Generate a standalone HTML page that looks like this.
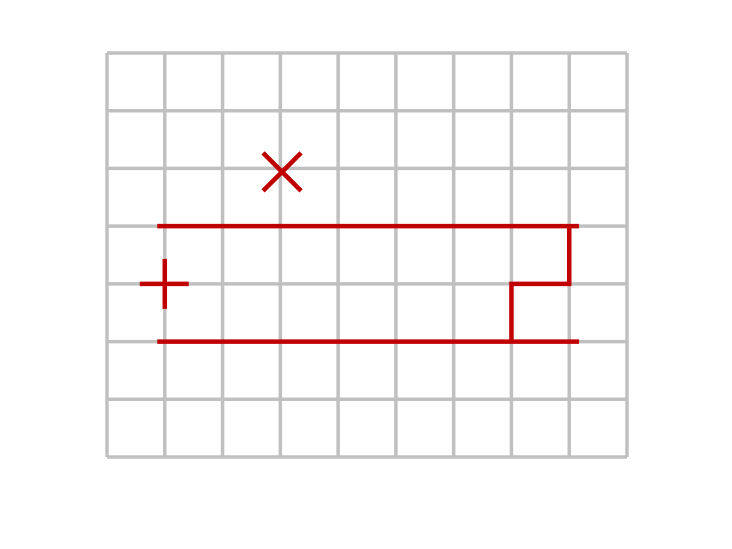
<!DOCTYPE html>
<html><head><meta charset="utf-8"><style>
html,body{margin:0;padding:0;background:#fff;width:732px;height:549px;overflow:hidden}
</style></head><body>
<svg id="chart" width="732" height="549" xmlns="http://www.w3.org/2000/svg"></svg>
<script>
const colCount = 9;
const rowCount = 7;
const hLines = [[0.87, 8.17, 3], [0.87, 8.17, 5]];
const pathPts = [[8.0, 3], [8.0, 4], [7.0, 4], [7.0, 5]];
const plusPt = [1, 4];
const crossPt = [3.03, 2.06];

const X0 = 107, X1 = 627, Y0 = 53, Y1 = 457;
const sx = v => X0 + v * (X1 - X0) / colCount;
const sy = v => Y0 + v * (Y1 - Y0) / rowCount;
const svg = document.getElementById('chart');
const NS = 'http://www.w3.org/2000/svg';
function line(x1, y1, x2, y2, stroke, w, name) {
  const l = document.createElementNS(NS, 'line');
  l.setAttribute('x1', x1); l.setAttribute('y1', y1);
  l.setAttribute('x2', x2); l.setAttribute('y2', y2);
  l.setAttribute('stroke', stroke); l.setAttribute('stroke-width', w);
  l.setAttribute('stroke-linecap', 'butt');
  
  
  svg.appendChild(l);
}
for (let i = 0; i <= colCount; i++) line(sx(i), Y0, sx(i), Y1, '#c0c0c0', 3.5, 'grid-vline');
for (let j = 0; j <= rowCount; j++) line(X0, sy(j), X1, sy(j), '#c0c0c0', 3.5, 'grid-hline');
const red = '#c00000';
hLines.forEach(h => line(sx(h[0]), sy(h[2]), sx(h[1]), sy(h[2]), red, 4.5, 'red-horizontal-line'));
const p = document.createElementNS(NS, 'polyline');
p.setAttribute('points', pathPts.map(q => sx(q[0]) + ',' + sy(q[1])).join(' '));
p.setAttribute('fill', 'none'); p.setAttribute('stroke', red); p.setAttribute('stroke-width', 4.5);


svg.appendChild(p);
const px = sx(plusPt[0]), py = sy(plusPt[1]);
line(px - 25, py, px + 24, py, red, 4.5, 'plus-marker');
line(px, py - 25, px, py + 25, red, 4.5, 'plus-marker');
const cx = sx(crossPt[0]), cy = sy(crossPt[1]);
line(cx - 19, cy - 19, cx + 19, cy + 19, red, 4.5, 'cross-marker');
line(cx - 19, cy + 19, cx + 19, cy - 19, red, 4.5, 'cross-marker');
</script>
</body></html>
